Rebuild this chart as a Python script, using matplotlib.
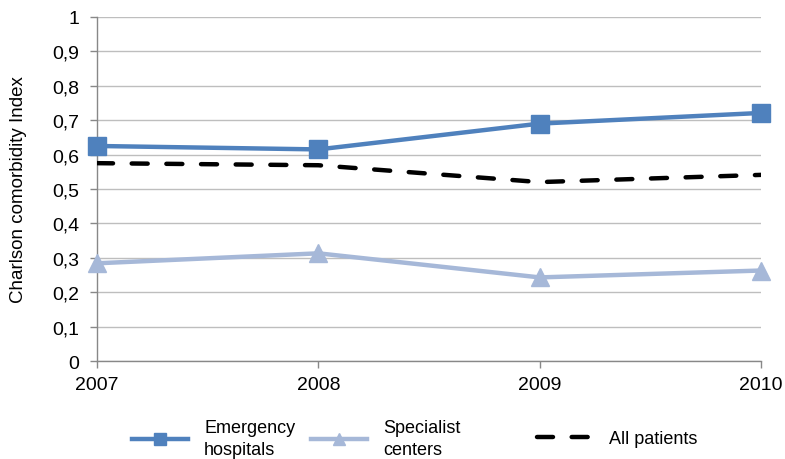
import matplotlib.pyplot as plt
from matplotlib.ticker import FuncFormatter
from matplotlib.lines import Line2D

plt.rcParams['font.family'] = ['Liberation Sans', 'DejaVu Sans']

# Charlson comorbidity index by year
years = [2007, 2008, 2009, 2010]
emergency = [0.625, 0.615, 0.690, 0.721]
specialist = [0.284, 0.313, 0.243, 0.263]
all_patients = [0.575, 0.569, 0.520, 0.541]

c_emerg = '#4F81BD'
c_spec = '#A6B8D8'

fig = plt.figure(figsize=(7.85, 4.6), dpi=100)
ax = fig.add_axes([0.1236, 0.213, 0.8458, 0.748])

ax.plot(years, all_patients, color='black', lw=3.2, dashes=(3.6, 4.2),
        dash_capstyle='round', zorder=3)
ax.plot(years, specialist, color=c_spec, lw=3.2, marker='^', ms=13,
        clip_on=False, zorder=4)
ax.plot(years, emergency, color=c_emerg, lw=3.2, marker='s', ms=12.5,
        clip_on=False, zorder=5)

ax.set_xlim(2007, 2010)
ax.set_ylim(0, 1)
ax.set_xticks(years)
ax.set_yticks([i / 10 for i in range(11)])
ax.yaxis.set_major_formatter(FuncFormatter(
    lambda v, p: '0' if v == 0 else ('1' if v == 1 else f'{v:.1f}'.replace('.', ','))))
ax.grid(axis='y', color='#BEBEBE', lw=1)
ax.set_axisbelow(True)

for s in ['top', 'right']:
    ax.spines[s].set_visible(False)
for s in ['left', 'bottom']:
    ax.spines[s].set_color('#888888')
    ax.spines[s].set_linewidth(1)
ax.tick_params(axis='both', colors='#888888', length=5, width=1,
               labelcolor='black', labelsize=14)
ax.tick_params(axis='y', pad=8)
ax.tick_params(axis='x', pad=6)
ax.set_ylabel('Charlson comorbidity Index', fontsize=13.5, labelpad=18)

h1 = Line2D([], [], color=c_emerg, lw=3.2, marker='s', ms=8)
h2 = Line2D([], [], color=c_spec, lw=3.2, marker='^', ms=9)
h3 = Line2D([], [], color='black', lw=3.2, dashes=(3.6, 4.2), dash_capstyle='round')

legend_items = [(h1, 'Emergency\nhospitals', 0.168), (h2, 'Specialist\ncenters', 0.396),
                (h3, 'All patients', 0.684)]
for h, lab, x in legend_items:
    lg = fig.legend([h], [lab], loc='center left', bbox_to_anchor=(x, 0.044),
                    frameon=False, fontsize=13, handlelength=3.1, handletextpad=0.9,
                    borderpad=0, borderaxespad=0)
    for t in lg.get_texts():
        t.set_linespacing(1.35)

fig.savefig('out.png', dpi=100)
